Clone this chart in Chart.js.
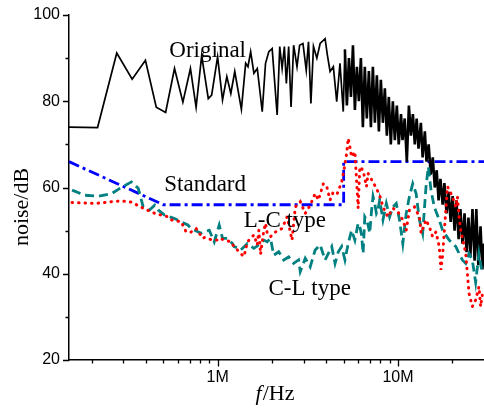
<!DOCTYPE html>
<html>
<head>
<meta charset="utf-8">
<script src="https://cdn.jsdelivr.net/npm/chart.js@4.4.1/dist/chart.umd.min.js"></script>
<style>
  body { margin: 0; background: #fff; }
  canvas { display: block; }
</style>
</head>
<body>
<canvas id="noiseChart" width="484" height="411"></canvas>
<script>
// frequency in MHz, level in dB
const originalFreq = [0.15, 0.216, 0.276, 0.336, 0.398, 0.457, 0.515, 0.577, 0.642, 0.707,
  0.760, 0.816, 0.888, 0.927, 1.0, 1.065, 1.125, 1.184, 1.245, 1.355,
  1.431, 1.474, 1.525, 1.590, 1.660, 1.768, 1.844, 1.923, 2.007, 2.139,
  2.211, 2.279, 2.346, 2.406, 2.478, 2.554, 2.640, 2.756, 2.849, 2.974,
  3.101, 3.192, 3.291, 3.401, 3.551, 3.703, 3.945, 4.062, 4.204, 4.383,
  4.576, 4.771, 4.974,
  5.08, 5.21, 5.35, 5.49, 5.63, 5.77, 5.92, 6.07, 6.23, 6.39,
  6.55, 6.72, 6.9, 7.08, 7.26, 7.45, 7.64, 7.84, 8.04, 8.25,
  8.46, 8.68, 8.9, 9.13, 9.37, 9.61, 9.86, 10.1, 10.4, 10.6,
  10.9, 11.2, 11.5, 11.8, 12.1, 12.4, 12.7, 13.0, 13.4, 13.7,
  14.1, 14.4, 14.8, 15.2, 15.6, 16.0, 16.4, 16.8, 17.2, 17.7,
  18.1, 18.6, 19.1, 19.6, 20.1, 20.6, 21.1, 21.7, 22.2, 22.8,
  23.4, 24.0, 24.6, 25.2, 25.9, 26.6, 27.2, 27.9, 28.7, 29.4, 30.0];
const originalDb = [74.0, 73.9, 91.2, 85.1, 89.5, 78.6, 77.4, 87.6, 79.8, 87.6,
  78.6, 90.6, 80.6, 81.4, 90.3, 80.3, 85.7, 81.8, 86.9, 78.1,
  88.8, 88.0, 91.5, 86.5, 87.6, 77.6, 88.8, 91.5, 92.2, 76.8,
  92.7, 87.6, 92.7, 84.1, 92.7, 78.7, 93.0, 88.0, 93.0, 93.4,
  87.2, 93.8, 79.5, 92.7, 90.0, 93.4, 94.5, 90.7, 86.9, 88.0,
  79.9, 88.8, 77.6,
  92, 79, 90, 81, 93, 78, 88, 80, 90, 74,
  88, 76, 87, 74, 88, 75, 86, 73, 85, 75,
  83, 72, 81, 70, 80, 71, 79, 70, 77, 71,
  76, 66, 79, 72, 77, 70, 76, 69, 75, 67,
  73, 66, 70, 63, 67, 60, 64, 57, 62, 56,
  61, 54, 59, 52, 58, 50, 57, 48, 55, 47,
  54, 45, 53, 44, 55, 43, 55, 42, 51, 41, 47];

const standardFreq = [0.15, 0.5, 5, 5, 30];
const standardDb = [66, 56, 56, 66, 66];

const lcFreq = [0.156, 0.209, 0.259, 0.294, 0.333, 0.378, 0.448, 0.531, 0.553, 0.602,
  0.628, 0.669, 0.713, 0.760, 0.827, 0.844, 0.939, 1.0, 1.021, 1.184,
  1.234, 1.373, 1.401, 1.463, 1.558, 1.590, 1.660, 1.694, 1.731, 1.805,
  1.844, 1.884, 1.965, 2.094, 2.279, 2.428, 2.587, 2.698, 2.874, 3.062,
  3.262, 3.475, 3.624, 3.861, 4.031, 4.204, 4.383, 4.611, 4.875, 5.019,
  5.194, 5.300, 5.415, 5.534, 5.770, 6.017, 6.148, 6.410, 6.549, 6.692,
  6.829, 6.978, 7.276, 7.751, 7.919, 8.258, 8.799, 9.374, 9.986, 10.64,
  11.11, 11.58, 12.34, 13.15, 13.44, 14.31, 14.93, 15.56, 16.25, 16.94,
  17.31, 17.67, 18.83, 20.05, 20.94, 21.36, 21.83, 22.30, 23.76, 24.25,
  24.77, 25.84, 26.97, 28.13, 28.74, 29.33];
const lcDb = [56.5, 56.3, 56.7, 56.9, 56.6, 55.4, 54.0, 53.2, 52.5, 52.2,
  52.1, 49.7, 49.7, 50.5, 48.2, 48.4, 47.8, 47.8, 48.2, 47.4,
  46.3, 44.3, 44.0, 47.4, 48.6, 49.0, 46.7, 50.1, 44.5, 50.1,
  51.7, 49.4, 48.6, 49.7, 50.5, 53.2, 47.8, 55.5, 56.7, 54.0,
  55.9, 58.6, 57.1, 60.9, 60.2, 57.1, 59.0, 58.6, 61.3, 64.0,
  67.9, 71.4, 69.4, 67.1, 68.3, 55.2, 64.8, 64.0, 62.1, 60.2,
  63.3, 62.5, 61.3, 59.0, 58.2, 55.5, 53.2, 55.2, 54.4, 52.5,
  50.1, 54.8, 55.5, 53.2, 49.4, 52.5, 50.9, 48.6, 49.7, 46.3,
  40.9, 44.0, 60.2, 57.9, 55.5, 57.9, 53.2, 50.1, 44.7, 40.1,
  35.5, 32.4, 33.9, 37.0, 32.4, 35.0];

const clFreq = [0.156, 0.184, 0.219, 0.259, 0.287, 0.333, 0.363, 0.387, 0.420, 0.448,
  0.468, 0.508, 0.577, 0.684, 0.713, 0.809, 0.899, 0.958, 1.021, 1.065,
  1.135, 1.209, 1.234, 1.315, 1.343, 1.463, 1.590, 1.731, 1.805, 1.884,
  1.965, 2.048, 2.183, 2.326, 2.478, 2.640, 2.813, 2.874, 3.062, 3.262,
  3.475, 3.703, 3.945, 4.114, 4.295, 4.479, 4.670, 4.875, 5.083, 5.300,
  5.534, 5.770, 6.017, 6.148, 6.281, 6.410, 6.549, 6.692, 6.829, 6.978,
  7.130, 7.276, 7.433, 7.596, 7.751, 7.919, 8.258, 8.623, 8.990, 9.374,
  9.786, 10.20, 10.64, 11.11, 11.58, 12.08, 12.61, 13.15, 13.71, 14.31,
  14.74, 15.25, 15.90, 16.94, 17.67, 19.23, 20.94, 21.83, 22.76, 23.76,
  24.77, 25.84, 26.97, 28.13, 29.33];
const clDb = [59.4, 58.2, 58.0, 58.6, 59.8, 61.3, 59.8, 55.5, 54.8, 55.9,
  54.8, 53.6, 52.8, 51.3, 50.5, 49.4, 50.1, 47.4, 51.3, 48.2,
  48.2, 47.0, 46.3, 45.9, 45.5, 47.0, 45.9, 47.0, 47.8, 47.4,
  48.2, 44.3, 45.1, 43.2, 43.9, 42.4, 43.2, 40.5, 43.6, 41.6,
  45.5, 46.7, 43.2, 44.7, 46.3, 42.4, 45.1, 46.3, 43.2, 47.0,
  50.1, 47.8, 51.7, 50.9, 49.0, 44.7, 53.2, 52.5, 51.3, 49.4,
  54.4, 57.9, 56.3, 54.0, 54.8, 57.1, 52.5, 56.3, 53.2, 55.5,
  56.3, 52.5, 47.0, 54.0, 57.9, 60.9, 58.6, 52.5, 49.4, 60.2,
  64.8, 59.4, 55.5, 52.5, 50.1, 47.8, 46.3, 44.7, 43.2, 42.4,
  44.7, 43.2, 38.0, 44.7, 40.1];

// axis ticks
const xTickValues = [0.2, 0.3, 0.4, 0.5, 0.6, 0.7, 0.8, 0.9, 1, 2, 3, 4, 5, 6, 7, 8, 9, 10, 20];
const xTickLabels = { 1: '1M', 10: '10M' };
const yTickValues = [20, 30, 40, 50, 60, 70, 80, 90, 100];
const yTickLabels = [20, 40, 60, 80, 100];

// text labels on the plot, anchored at (MHz, dB) = left end / baseline
const noteTexts = ['Original', 'Standard', 'L-C type', 'C-L type'];
const noteFreq = [0.54, 0.506, 1.395, 1.916];
const noteDb = [90.2, 59.2, 50.8, 35.1];

const toPoints = (fs, vs) => fs.map((f, i) => ({ x: f, y: vs[i] }));

const decor = {
    id: 'decor',
    afterDraw(chart) {
        const { ctx, chartArea, scales: { x, y } } = chart;
        ctx.save();
        ctx.strokeStyle = '#000';
        ctx.lineWidth = 1.3;
        ctx.beginPath();
        xTickValues.forEach(v => {
            const px = Math.round(x.getPixelForValue(v)) + 0.5;
            const len = xTickLabels[v] ? 6.5 : 3.5;
            ctx.moveTo(px, chartArea.bottom);
            ctx.lineTo(px, chartArea.bottom + len);
        });
        yTickValues.forEach(v => {
            const py = Math.round(y.getPixelForValue(v)) + 0.5;
            const len = yTickLabels.includes(v) ? 6 : 3.5;
            ctx.moveTo(chartArea.left, py);
            ctx.lineTo(chartArea.left - len, py);
        });
        ctx.stroke();

        ctx.fillStyle = '#000';
        ctx.textBaseline = 'alphabetic';
        ctx.textAlign = 'left';
        ctx.font = '23px "Liberation Serif"';
        noteTexts.forEach((t, i) => {
            ctx.fillText(t, x.getPixelForValue(noteFreq[i]), y.getPixelForValue(noteDb[i]));
        });

        // x title: italic f + /Hz
        const cx = (chartArea.left + chartArea.right) / 2;
        ctx.font = 'italic 22px "Liberation Serif"';
        const w1 = ctx.measureText('f').width;
        ctx.font = '22px "Liberation Serif"';
        const w2 = ctx.measureText('/Hz').width;
        const startX = cx - (w1 + w2) / 2 - 2;
        ctx.font = 'italic 22px "Liberation Serif"';
        ctx.fillText('f', startX, 400);
        ctx.font = '22px "Liberation Serif"';
        ctx.fillText('/Hz', startX + w1 + 1, 400);

        // y title
        ctx.translate(28, 207);
        ctx.rotate(-Math.PI / 2);
        ctx.textAlign = 'center';
        ctx.font = '22px "Liberation Serif"';
        ctx.fillText('noise/dB', 0, 0);
        ctx.restore();
    }
};

new Chart(document.getElementById('noiseChart'), {
    type: 'line',
    data: {
        datasets: [
            {
                label: 'L-C type',
                data: toPoints(lcFreq, lcDb),
                borderColor: '#ff0000',
                borderWidth: 3,
                borderDash: [0.5, 6],
                borderCapStyle: 'round',
                order: 1
            },
            {
                label: 'C-L type',
                data: toPoints(clFreq, clDb),
                borderColor: '#008080',
                borderWidth: 2.8,
                borderDash: [9, 5],
                order: 2
            },
            {
                label: 'Original',
                data: toPoints(originalFreq, originalDb),
                borderColor: '#000000',
                borderWidth: 1.7,
                // the dense part above 5 MHz is drawn heavier, as in the figure
                segment: { borderWidth: c => (c.p0.parsed.x >= 5 ? 2.6 : 1.7) },
                order: 3
            },
            {
                label: 'Standard',
                data: toPoints(standardFreq, standardDb),
                borderColor: '#0000ff',
                borderWidth: 2.8,
                borderDash: [11, 4, 3, 4],
                order: 4
            }
        ]
    },
    options: {
        responsive: false,
        devicePixelRatio: 1,
        animation: false,
        layout: { padding: { top: 15, right: 0, left: 0, bottom: 0 } },
        elements: { point: { radius: 0 }, line: { tension: 0 } },
        plugins: { legend: { display: false }, tooltip: { enabled: false } },
        scales: {
            x: {
                type: 'logarithmic',
                min: 0.15,
                max: 30,
                afterBuildTicks: s => { s.ticks = xTickValues.map(v => ({ value: v })); },
                afterFit: s => { s.height = 51; s.paddingLeft = 0; s.paddingRight = 0; },
                grid: { drawOnChartArea: false, drawTicks: false },
                border: { display: true, color: '#000', width: 1.5 },
                ticks: {
                    autoSkip: false,
                    maxRotation: 0,
                    padding: 8,
                    color: '#000',
                    font: { family: 'Liberation Sans', size: 16 },
                    callback: v => xTickLabels[v] || ''
                }
            },
            y: {
                min: 20,
                max: 100,
                afterFit: s => { s.width = 69; s.paddingTop = 0; s.paddingBottom = 0; },
                grid: { drawOnChartArea: false, drawTicks: false },
                border: { display: true, color: '#000', width: 1.5 },
                ticks: {
                    stepSize: 20,
                    padding: 9,
                    color: '#000',
                    font: { family: 'Liberation Sans', size: 16 }
                }
            }
        }
    },
    plugins: [decor]
});
</script>
</body>
</html>
